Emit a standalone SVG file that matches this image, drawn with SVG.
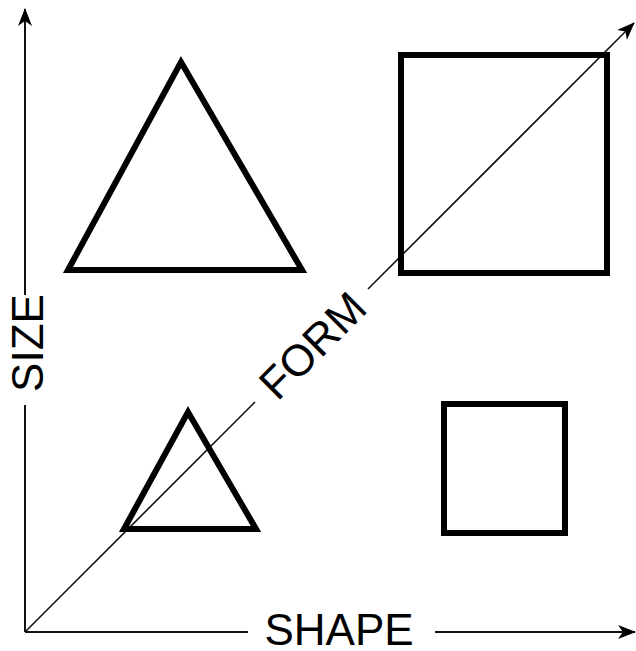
<svg xmlns="http://www.w3.org/2000/svg" width="636" height="651" viewBox="0 0 636 651">
<style>
.shape{fill:none;stroke:#000;stroke-width:6;stroke-linejoin:miter}
.axis{fill:none;stroke:#111;stroke-width:2}
.diag{fill:none;stroke:#111;stroke-width:1.6}
.lbl{font-family:"Liberation Sans",Arial,sans-serif;font-size:44px;fill:#000}
</style>
<defs>
<marker id="arr" viewBox="0 0 18 14" refX="17" refY="7" markerWidth="18" markerHeight="14" markerUnits="userSpaceOnUse" orient="auto">
<path d="M0,0 L18,7 L0,14 L5,7 Z" fill="#000"/>
</marker>
</defs>
<rect width="636" height="651" fill="#fff"/>
<g id="connectors">
<path class="axis" d="M25,632 V405"/>
<path class="axis" d="M25,295 V9" marker-end="url(#arr)"/>
<path class="axis" d="M25,632 H248"/>
<path class="axis" d="M435,632 H635" marker-end="url(#arr)"/>
<path class="diag" d="M25,632 L255,402"/>
<path class="diag" d="M368,289 L634,23" marker-end="url(#arr)"/>
</g>
<g id="big-triangle"><polygon class="shape" points="68,270 302,270 181,62"/></g>
<g id="big-square"><rect class="shape" x="401" y="55" width="206" height="218"/></g>
<g id="small-triangle"><polygon class="shape" points="124,529 256,529 188,412"/></g>
<g id="small-square"><rect class="shape" x="444" y="404" width="121" height="129"/></g>
<g id="labels">
<text class="lbl" x="339" y="645" text-anchor="middle">SHAPE</text>
<text class="lbl" transform="translate(43,343) rotate(-90)" text-anchor="middle">SIZE</text>
<text class="lbl" transform="translate(312,345) rotate(-45)" y="16" text-anchor="middle">FORM</text>
</g>
</svg>
